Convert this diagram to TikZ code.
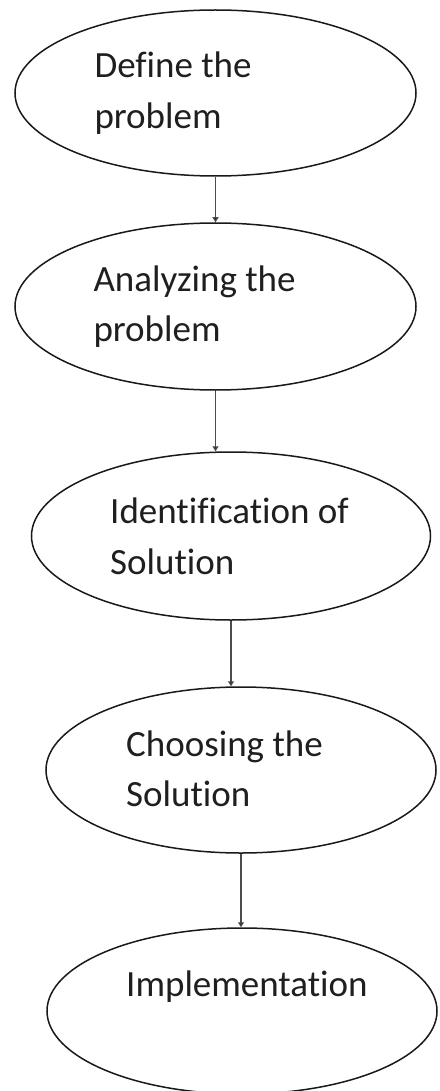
\documentclass[tikz,border=0pt]{standalone}
\usepackage{fontspec}
\setmainfont{Carlito}[Ligatures=NoCommon]
\usetikzlibrary{shapes.geometric,arrows.meta}
\begin{document}
\begin{tikzpicture}[x=1pt,y=-1pt,
  stage/.style={ellipse, draw=black!90, line width=1.5pt, inner sep=0pt},
  steptext/.style={anchor=base west, inner sep=0pt, align=left,
    font=\fontsize{37}{50.5}\selectfont, text=black!88},
  flow/.style={draw=black!70, line width=1.3pt,
    -{Triangle[length=5pt,width=6pt,fill=black]}}]
\useasboundingbox (0,0) rectangle (439,1091);
\clip (0,0) rectangle (439,1091);

% process stages
\node[stage, minimum width=401pt, minimum height=166pt] (e1) at (215.5,93) {};
\node[stage, minimum width=401pt, minimum height=167pt] (e2) at (215.5,306.5) {};
\node[stage, minimum width=399pt, minimum height=168pt] (e3) at (231,536) {};
\node[stage, minimum width=390pt, minimum height=166pt] (e4) at (241,770) {};
\node[stage, minimum width=390pt, minimum height=166pt] (e5) at (242,1011) {};

% stage captions (anchored at the baseline of the last line)
\node[steptext] (t1) at (94.3,128.5) {Define the\\problem};
\node[steptext] (t2) at (93.3,341.7) {Analyzing the\\problem};
\node[steptext] (t3) at (110,574.3) {Identification of\\Solution};
\node[steptext] (t4) at (126,806.7) {Choosing the\\Solution};
\node[steptext] (t5) at (126,996) {Implementation};

% flow between stages, straight down from each stage
\draw[flow] (e1.south) -- (e1.south |- e2.north);
\draw[flow] (e2.south) -- (e2.south |- e3.north);
\draw[flow] (e3.south) -- (e3.south |- e4.north);
\draw[flow] (e4.south) -- (e4.south |- e5.north);
\end{tikzpicture}
\end{document}
